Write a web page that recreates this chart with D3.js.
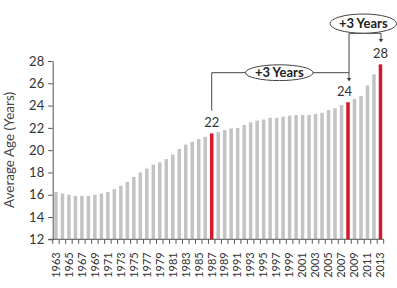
<!DOCTYPE html>
<html><head><meta charset="utf-8">
<script src="https://cdn.jsdelivr.net/npm/d3@7"></script>
<style>body{margin:0;background:#fff}svg{display:block}</style>
</head><body>
<svg id="c" width="397" height="288"></svg>
<script>
const years = d3.range(1963, 2014);
const ages = [16.25,16.1,16.0,15.9,15.9,15.9,16.0,16.1,16.25,16.5,16.8,17.15,17.6,18.0,18.35,18.7,18.9,19.2,19.6,20.1,20.5,20.75,21.0,21.2,21.5,
21.62,21.8,21.95,22.0,22.25,22.5,22.65,22.75,22.9,22.9,23.0,23.1,23.15,23.15,23.15,23.25,23.35,23.6,23.75,24.05,24.3,24.6,24.85,25.8,26.8,27.7];
const highlightYears = [1987, 2008, 2013];
const highlightLabels = ["22", "24", "28"];
const yTicks = [12,14,16,18,20,22,24,26,28];
const xTickLabels = years.filter((d,i)=>i%2===0);
const annotationText = ["+3 Years", "+3 Years"];

const svg = d3.select("#c");
const font = "Lato, 'Open Sans', sans-serif";
const x = d3.scaleBand().domain(years).range([52.7, 383.7]).paddingInner(0.46).paddingOuter(0.23);
const y = d3.scaleLinear().domain([12, 28]).range([239.3, 61]);
const cx = yr => x(yr) + x.bandwidth()/2;

// bars
svg.append("g").selectAll("rect").data(years).join("rect")
  .attr("x", d => x(d)).attr("width", x.bandwidth())
  .attr("y", (d,i) => y(ages[i])).attr("height", (d,i) => y(12) - y(ages[i]))
  .attr("fill", d => highlightYears.includes(d) ? "#d7182a" : "#c3c3c3");

// y axis
const ya = svg.append("g").attr("transform", "translate(52.7,0)")
  .call(d3.axisLeft(y).tickValues(yTicks).tickSize(4.5).tickPadding(4).tickSizeOuter(0));
ya.select(".domain").attr("stroke", "#555");
ya.selectAll(".tick line").attr("stroke", "#555");
ya.selectAll("text").attr("font-family", font).attr("font-size", 13).attr("fill", "#333");

// x axis
const xScaleEdges = d3.scaleLinear().domain([0, years.length]).range([52.7, 383.7]);
const xa = svg.append("g").attr("transform", "translate(0,239.3)");
xa.append("line").attr("x1", 48.2).attr("x2", 383.7).attr("y1", 0).attr("y2", 0).attr("stroke", "#555");
xa.selectAll("line.t").data(d3.range(years.length + 1)).join("line").attr("class","t")
  .attr("x1", d => xScaleEdges(d)).attr("x2", d => xScaleEdges(d)).attr("y1", 0).attr("y2", 4.5).attr("stroke", "#555");
xa.selectAll("text").data(xTickLabels).join("text")
  .attr("transform", d => `translate(${cx(d)+3.8},13) rotate(-90)`)
  .attr("text-anchor", "end").attr("font-family", font).attr("font-size", 11).attr("fill", "#333")
  .text(d => d);

// y title
svg.append("text").attr("transform", "translate(14,150) rotate(-90)")
  .attr("text-anchor", "middle").attr("font-family", font).attr("font-size", 13.5).attr("fill", "#444")
  .text("Average Age (Years)");

// value labels
const labelOffsets = [0, -3.5, 0];
svg.selectAll("text.v").data(highlightYears).join("text").attr("class","v")
  .attr("x", (d,i) => cx(d) + labelOffsets[i]).attr("y", (d,i) => y(ages[years.indexOf(d)]) - 6)
  .attr("text-anchor", "middle").attr("font-family", font).attr("font-size", 13).attr("fill", "#333")
  .text((d,i) => highlightLabels[i]);

// annotations
const stroke = "#444";
const a = svg.append("g");
const xL = cx(1987), xM = cx(2008) + 1, xR = cx(2013) + 0.5;
const yB1 = 72.7, yB2 = 33.3;
a.append("path").attr("d", `M${xL},110.7V${yB1}H${xM}V${78}`).attr("fill","none").attr("stroke",stroke).attr("stroke-width",1);
a.append("path").attr("d", `M${xM},${yB1}V${yB2}H${xR}V${39}`).attr("fill","none").attr("stroke",stroke).attr("stroke-width",1);
const arrow = (px, py) => a.append("path").attr("d", `M${px-2.2},${py-3.5}L${px+2.2},${py-3.5}L${px},${py}Z`).attr("fill", stroke);
arrow(xM, 81.5);
arrow(xR, 42.5);

const ells = [{x: 279.3, y: yB1, rx: 33.8, ry: 7.9}, {x: 363.3, y: 23.6, rx: 33.3, ry: 9.6}];
ells.forEach((e, i) => {
  a.append("ellipse").attr("cx", e.x).attr("cy", e.y).attr("rx", e.rx).attr("ry", e.ry)
    .attr("fill", "#fff").attr("stroke", stroke).attr("stroke-width", 1);
  a.append("text").attr("x", e.x).attr("y", e.y + 4.5).attr("text-anchor", "middle")
    .attr("font-family", font).attr("font-size", 13).attr("font-weight", "bold").attr("fill", "#222")
    .text(annotationText[i]);
});
</script>
</body></html>
